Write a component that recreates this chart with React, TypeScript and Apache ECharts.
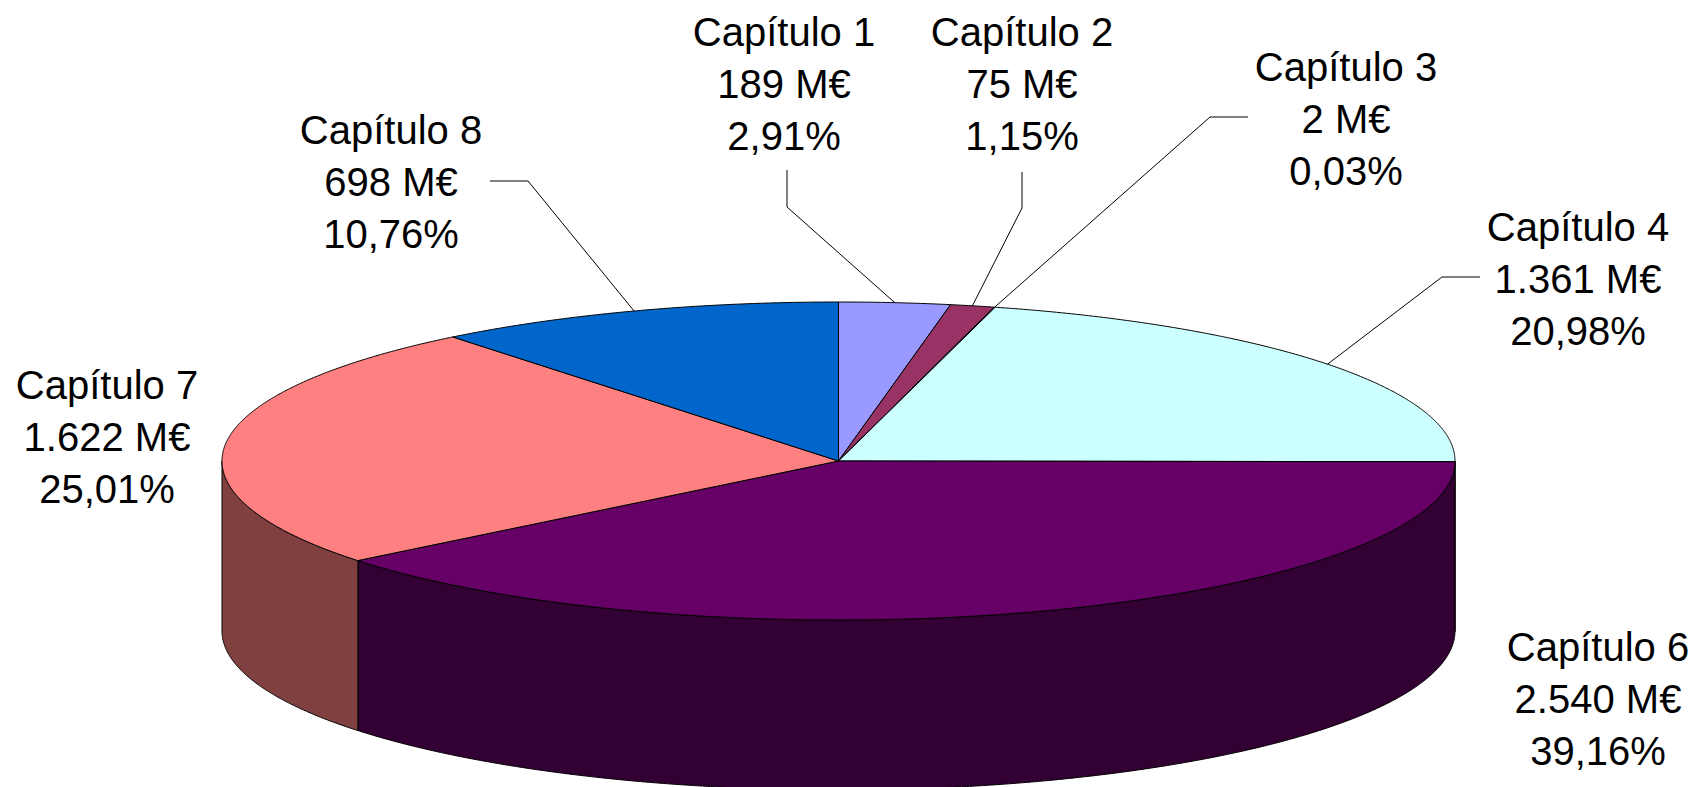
import React, { useEffect, useRef } from "react";
import * as echarts from "echarts";

// ---- data ----
const categories = ["Capítulo 1", "Capítulo 2", "Capítulo 3", "Capítulo 4", "Capítulo 6", "Capítulo 7", "Capítulo 8"];
const amountsMEur = [189, 75, 2, 1361, 2540, 1622, 698];
const percents = [2.91, 1.15, 0.03, 20.98, 39.16, 25.01, 10.76];

// ---- styling / layout (kept apart from the data) ----
const topColors = ["#9999FF", "#993366", "#FFFFCC", "#CCFFFF", "#660066", "#FF8080", "#0066CC"];
const sideColors = ["#4C4C80", "#4C1933", "#808066", "#668080", "#330033", "#804040", "#003366"];
// label centre, and optional leader start + elbow
const labelLayout: { x: number; y: number; leader?: number[][] }[] = [
  { x: 784, y: 84, leader: [[787, 170], [787, 207]] },
  { x: 1022, y: 84, leader: [[1022, 172], [1022, 208]] },
  { x: 1346, y: 119, leader: [[1248, 117], [1210, 117]] },
  { x: 1578, y: 279, leader: [[1480, 277], [1442, 277]] },
  { x: 1598, y: 699 },
  { x: 107, y: 437 },
  { x: 391, y: 182, leader: [[490, 181], [528, 181]] },
];
const CX = 838.5;
const CY = 461;
const RX = 616.5;
const RY = 159;
const DEPTH = 170;
const FONT = '"Liberation Sans", Arial, sans-serif';

function fmtThousands(v: number): string {
  return String(Math.round(v)).replace(/\B(?=(\d{3})+(?!\d))/g, ".");
}
function fmtPct(p: number): string {
  return p.toFixed(2).replace(".", ",") + "%";
}

function pt(t: number, dy = 0): number[] {
  return [CX + RX * Math.sin(t), CY - RY * Math.cos(t) + dy];
}
function arc(a: number, b: number, dy = 0): number[][] {
  const step = (0.25 * Math.PI) / 180;
  const n = Math.max(1, Math.ceil((b - a) / step));
  const out: number[][] = [];
  for (let k = 0; k <= n; k++) out.push(pt(a + ((b - a) * k) / n, dy));
  return out;
}

export default function App() {
  const ref = useRef<HTMLDivElement>(null);
  useEffect(() => {
    if (!ref.current) return;
    const chart = echarts.init(ref.current, null, { renderer: "svg" });
    const total = percents.reduce((s, v) => s + v, 0);

    const renderItem = (params: any, api: any) => {
      const i = params.dataIndex;
      const p = api.value(1) as number;
      let before = 0;
      for (let k = 0; k < i; k++) before += percents[k];
      const t0 = (before / total) * Math.PI * 2;
      const t1 = ((before + p) / total) * Math.PI * 2;
      const children: any[] = [];

      // side wall (front half only)
      const a = Math.max(t0, Math.PI / 2);
      const b = Math.min(t1, (Math.PI * 3) / 2);
      if (b > a) {
        const pts = arc(a, b).concat(arc(a, b, DEPTH).reverse());
        children.push({
          type: "polygon",
          shape: { points: pts },
          style: { fill: sideColors[i], stroke: "#000", lineWidth: 1 },
        });
      }
      // top face
      children.push({
        type: "polygon",
        shape: { points: [[CX, CY]].concat(arc(t0, t1)) },
        style: { fill: topColors[i], stroke: "#000", lineWidth: 1 },
      });

      // label
      const lay = labelLayout[i];
      const name = categories[i];
      children.push({
        type: "text",
        style: {
          text: `${name}\n${fmtThousands(amountsMEur[i])} M€\n${fmtPct(p)}`,
          x: lay.x,
          y: lay.y,
          align: "center",
          verticalAlign: "middle",
          fontSize: 40,
          lineHeight: 52,
          fontFamily: FONT,
          fill: "#000",
        },
      });
      if (lay.leader) {
        const mid = pt((t0 + t1) / 2);
        children.push({
          type: "polyline",
          shape: { points: lay.leader.concat([mid]) },
          style: { stroke: "#000", lineWidth: 1, fill: null },
        });
      }
      return { type: "group", children };
    };

    chart.setOption({
      animation: false,
      backgroundColor: "#ffffff",
      series: [
        {
          type: "custom",
          coordinateSystem: "none",
          silent: true,
          data: percents.map((p, i) => [i, p]),
          renderItem,
        },
      ],
    });
    return () => chart.dispose();
  }, []);
  return (
    <div
      ref={ref}
      style={{ position: "fixed", left: 0, top: 0, width: "1697px", height: "787px" }}
    />
  );
}
